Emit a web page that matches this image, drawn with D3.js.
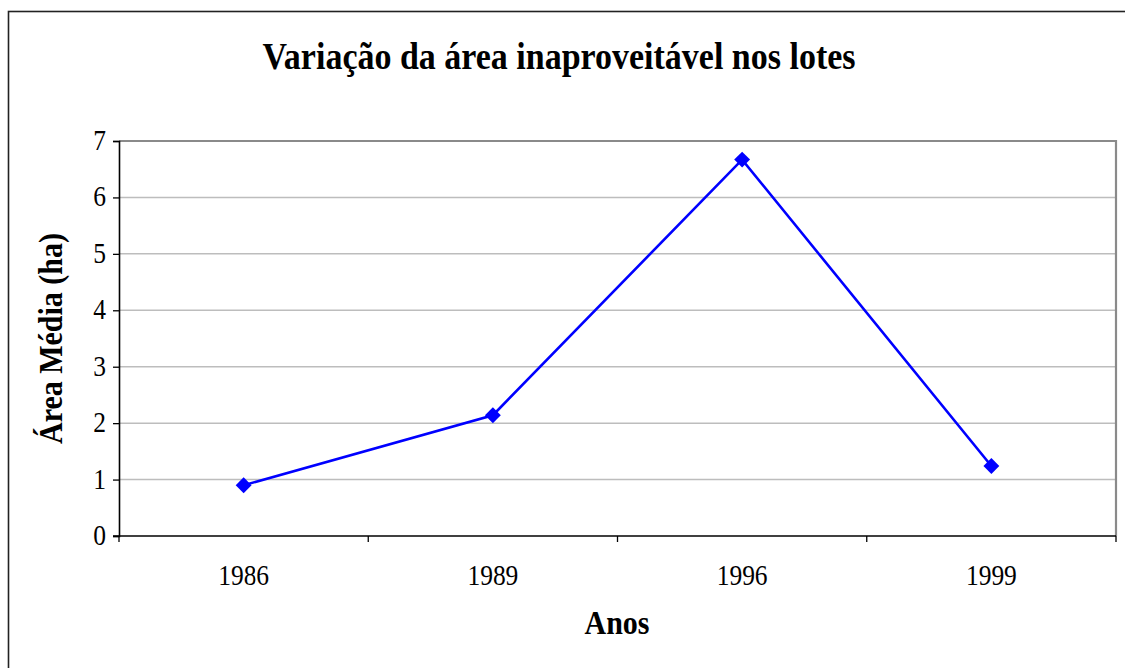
<!DOCTYPE html>
<html>
<head>
<meta charset="utf-8">
<script src="https://cdn.jsdelivr.net/npm/d3@7"></script>
<style>
  html, body { margin: 0; padding: 0; background: #fff; }
  svg { display: block; }
  text { font-family: "Liberation Serif", "Times New Roman", serif; fill: #000; }
</style>
</head>
<body>
<svg id="chart" width="1125" height="668"></svg>
<script>
const categories = ["1986", "1989", "1996", "1999"];
const values = [0.90, 2.14, 6.67, 1.24];
const yTicks = [0, 1, 2, 3, 4, 5, 6, 7];
const titleText = "Variação da área inaproveitável nos lotes";
const xTitle = "Anos";
const yTitle = "Área Média (ha)";

const svg = d3.select("#chart");
const W = 1125, H = 668;
const plot = { left: 119, right: 1116, top: 141, bottom: 536 };
const SY = 1.12; // vertical stretch of the reference's text

svg.append("rect").attr("width", W).attr("height", H).attr("fill", "#fff");

// outer chart border (extends beyond the canvas at right and bottom)
svg.append("rect")
  .attr("x", 8.5).attr("y", 11.5)
  .attr("width", 1140).attr("height", 700)
  .attr("fill", "none").attr("stroke", "#222").attr("stroke-width", 1.6);

const x = d3.scaleBand().domain(categories).range([plot.left, plot.right]).padding(0);
const y = d3.scaleLinear().domain([0, 7]).range([plot.bottom, plot.top]);

// gridlines
svg.append("g").selectAll("line")
  .data(yTicks.filter(d => d > 0 && d < 7))
  .join("line")
  .attr("x1", plot.left).attr("x2", plot.right)
  .attr("y1", d => y(d)).attr("y2", d => y(d))
  .attr("stroke", "#bdbdbd").attr("stroke-width", 1.5);

// plot area top & right border (gray)
svg.append("path")
  .attr("d", `M${plot.left},${y(7)}H${plot.right}V${plot.bottom}`)
  .attr("fill", "none").attr("stroke", "#8a8a8a").attr("stroke-width", 2.2);

// y axis
const yAxis = d3.axisLeft(y).tickValues(yTicks).tickSize(6).tickPadding(6).tickFormat(d3.format("d"));
const gy = svg.append("g").attr("transform", `translate(${plot.left},0)`).call(yAxis);
gy.select(".domain").attr("stroke", "#000").attr("stroke-width", 1.6);
gy.selectAll(".tick line").attr("stroke", "#000").attr("stroke-width", 1.3);
gy.selectAll(".tick text")
  .attr("font-family", '"Liberation Serif", "Times New Roman", serif')
  .attr("font-size", 25.5).attr("fill", "#000")
  .attr("x", null).attr("dy", null).attr("y", 0)
  .attr("transform", `translate(-13,8.5) scale(1,${SY})`);

// x axis: ticks at band boundaries
const boundaries = categories.map(c => x(c)).concat([x(categories[categories.length - 1]) + x.bandwidth()]);
const gx = svg.append("g");
gx.append("line")
  .attr("x1", plot.left - 6).attr("x2", plot.right)
  .attr("y1", plot.bottom).attr("y2", plot.bottom)
  .attr("stroke", "#000").attr("stroke-width", 1.6);
gx.selectAll("line.tk").data(boundaries).join("line").attr("class", "tk")
  .attr("x1", d => d).attr("x2", d => d)
  .attr("y1", plot.bottom).attr("y2", plot.bottom + 6)
  .attr("stroke", "#000").attr("stroke-width", 1.3);
gx.selectAll("text").data(categories).join("text")
  .attr("transform", d => `translate(${x(d) + x.bandwidth() / 2},585) scale(1,${SY})`)
  .attr("text-anchor", "middle")
  .attr("font-size", 25.5)
  .text(d => d);

// line + markers
const line = d3.line()
  .x((d, i) => x(categories[i]) + x.bandwidth() / 2)
  .y(d => y(d));
svg.append("path").datum(values)
  .attr("d", line)
  .attr("fill", "none").attr("stroke", "#0000ff").attr("stroke-width", 2.6);

svg.append("g").selectAll("path").data(values).join("path")
  .attr("transform", (d, i) => `translate(${x(categories[i]) + x.bandwidth() / 2},${y(d)})`)
  .attr("d", d3.symbol().type(d3.symbolDiamond2).size(160))
  .attr("fill", "#0000ff");

// titles
svg.append("text")
  .attr("transform", `translate(559,69) scale(1,${SY})`)
  .attr("text-anchor", "middle")
  .attr("font-weight", "bold").attr("font-size", 34)
  .text(titleText);

svg.append("text")
  .attr("transform", `translate(617,634) scale(1,${SY})`)
  .attr("text-anchor", "middle")
  .attr("font-weight", "bold").attr("font-size", 30)
  .text(xTitle);

svg.append("text")
  .attr("transform", `translate(62,${(plot.top + plot.bottom) / 2}) rotate(-90) scale(1,${SY})`)
  .attr("text-anchor", "middle")
  .attr("font-weight", "bold").attr("font-size", 30)
  .text(yTitle);
</script>
</body>
</html>
